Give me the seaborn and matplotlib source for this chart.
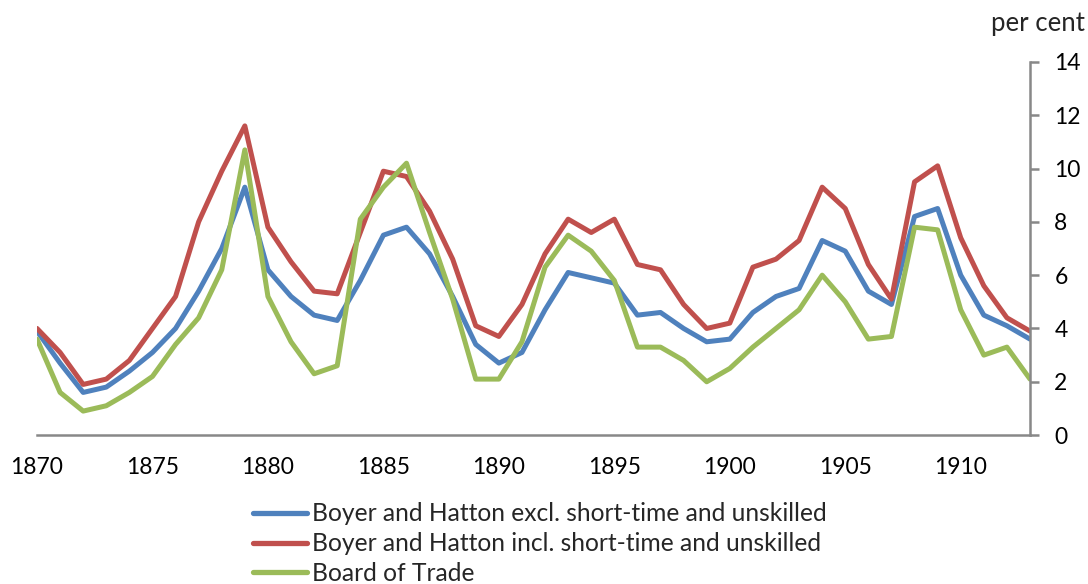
import numpy as np
import pandas as pd
import matplotlib
matplotlib.use("Agg")
import matplotlib.pyplot as plt
import seaborn as sns

years = list(range(1870, 1914))

excl = [3.9, 2.7, 1.6, 1.8, 2.4, 3.1, 4.0, 5.4, 7.0, 9.3,
        6.2, 5.2, 4.5, 4.3, 5.8, 7.5, 7.8, 6.8, 5.2, 3.4,
        2.7, 3.1, 4.7, 6.1, 5.9, 5.7, 4.5, 4.6, 4.0, 3.5,
        3.6, 4.6, 5.2, 5.5, 7.3, 6.9, 5.4, 4.9, 8.2, 8.5,
        6.0, 4.5, 4.1, 3.6]

incl = [4.0, 3.1, 1.9, 2.1, 2.8, 4.0, 5.2, 8.0, 9.9, 11.6,
        7.8, 6.5, 5.4, 5.3, 7.6, 9.9, 9.7, 8.4, 6.6, 4.1,
        3.7, 4.9, 6.8, 8.1, 7.6, 8.1, 6.4, 6.2, 4.9, 4.0,
        4.2, 6.3, 6.6, 7.3, 9.3, 8.5, 6.4, 5.1, 9.5, 10.1,
        7.4, 5.6, 4.4, 3.9]

bot = [3.6, 1.6, 0.9, 1.1, 1.6, 2.2, 3.4, 4.4, 6.2, 10.7,
       5.2, 3.5, 2.3, 2.6, 8.1, 9.3, 10.2, 7.6, 5.1, 2.1,
       2.1, 3.5, 6.3, 7.5, 6.9, 5.8, 3.3, 3.3, 2.8, 2.0,
       2.5, 3.3, 4.0, 4.7, 6.0, 5.0, 3.6, 3.7, 7.8, 7.7,
       4.7, 3.0, 3.3, 2.1]

series_names = ["Boyer and Hatton excl. short-time and unskilled",
                "Boyer and Hatton incl. short-time and unskilled",
                "Board of Trade"]
colors = ["#4F81BD", "#C0504D", "#9BBB59"]

df = pd.DataFrame({"year": years * 3,
                   "value": excl + incl + bot,
                   "series": [series_names[0]] * len(years)
                   + [series_names[1]] * len(years)
                   + [series_names[2]] * len(years)})

sns.set_style("white")
plt.rcParams["font.family"] = ["Lato", "DejaVu Sans"]

fig = plt.figure(figsize=(10.88, 5.84), dpi=100)
# plot area: x 37..1030 px, y 62..435 px
ax = fig.add_axes([0.034, 0.255, 0.9127, 0.639])

sns.lineplot(data=df, x="year", y="value", hue="series",
             palette=colors, linewidth=3.6, ax=ax)

ax.set_xlim(1870, 1913)
ax.set_ylim(0, 14)
ax.set_xticks(range(1870, 1911, 5))
ax.set_yticks(range(0, 15, 2))
ax.yaxis.tick_right()
ax.set_xlabel("")
ax.set_ylabel("")

gray = "#888888"
for s in ["top", "left"]:
    ax.spines[s].set_visible(False)
for s in ["bottom", "right"]:
    ax.spines[s].set_color(gray)
    ax.spines[s].set_linewidth(1.8)
ax.tick_params(axis="both", colors=gray, width=1.8, length=6.5,
               labelcolor="black", labelsize=16.5, direction="out")
ax.tick_params(axis="y", pad=11)
ax.tick_params(axis="x", pad=9)

fig.text(0.997, 0.96, "per cent", ha="right", va="center", fontsize=18.5)

leg = ax.legend(loc="upper left", bbox_to_anchor=(0.2325, 0.14),
                bbox_transform=fig.transFigure, frameon=False,
                fontsize=17.7, handlelength=2.2, handletextpad=0.2,
                labelspacing=0.28, borderaxespad=0, borderpad=0)
for line in leg.get_lines():
    line.set_linewidth(3.8)

fig.savefig("out.png", dpi=100)
